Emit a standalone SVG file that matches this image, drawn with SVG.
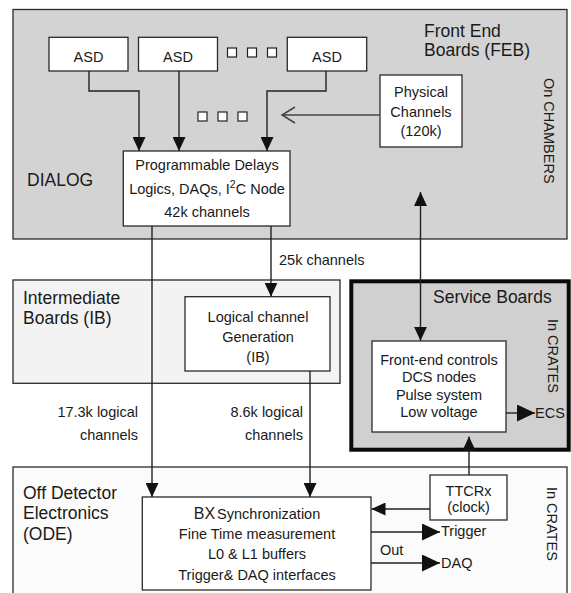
<svg xmlns="http://www.w3.org/2000/svg" width="571" height="593" viewBox="0 0 571 593">
<style>
text{font-family:"Liberation Sans",Arial,sans-serif;fill:#1a1a1a;font-size:14.5px}
.t{font-size:17.5px}
.m{text-anchor:middle}
.e{text-anchor:end}
.box{fill:#fff;stroke:#2a2a2a;stroke-width:1.3}
.dot{fill:#fff;stroke:#222;stroke-width:1.2}
.c{fill:none;stroke:#222;stroke-width:1.4}
.a{marker-end:url(#ah)}
.ab{marker-end:url(#ahb)}
</style>
<defs>
<marker id="ah" markerUnits="userSpaceOnUse" viewBox="0 0 14 13" markerWidth="14" markerHeight="13" refX="14" refY="6.5" orient="auto-start-reverse"><path d="M0,0L14,6.5L0,13z" fill="#111"/></marker>
<marker id="ahb" markerUnits="userSpaceOnUse" viewBox="0 0 18 17" markerWidth="18" markerHeight="17" refX="18" refY="8.5" orient="auto"><path d="M0,0L18,8.5L0,17z" fill="#111"/></marker>
</defs>

<g id="feb">
<rect x="13" y="9.5" width="554" height="229.5" fill="#d3d3d3" stroke="#2a2a2a" stroke-width="1.3"/>
<text class="t" x="424" y="36.5">Front End</text>
<text class="t" x="424" y="56">Boards (FEB)</text>
<text class="t" x="27" y="186">DIALOG</text>
<text transform="translate(543.5,78) rotate(90)">On CHAMBERS</text>
<rect class="dot" x="227.5" y="48" width="9" height="9"/>
<rect class="dot" x="247.5" y="48" width="9" height="9"/>
<rect class="dot" x="267.5" y="48" width="9" height="9"/>
<rect class="dot" x="198" y="112" width="9" height="9"/>
<rect class="dot" x="218" y="112" width="9" height="9"/>
<rect class="dot" x="238" y="112" width="9" height="9"/>
</g>
<g id="asd1"><rect class="box" x="49" y="37.3" width="79" height="33.7"/><text class="m" x="88.5" y="62">ASD</text></g>
<g id="asd2"><rect class="box" x="138.5" y="37.3" width="79" height="33.7"/><text class="m" x="178" y="62">ASD</text></g>
<g id="asd3"><rect class="box" x="287.3" y="37.3" width="79.4" height="33.7"/><text class="m" x="327" y="62">ASD</text></g>
<g id="physical"><rect class="box" x="380" y="75" width="82" height="72"/>
<text class="m" x="421" y="96.5">Physical</text><text class="m" x="421" y="116.5">Channels</text><text class="m" x="421" y="136">(120k)</text></g>
<g id="prog"><rect class="box" x="123.3" y="151" width="166.7" height="75"/>
<text class="m" x="207" y="170">Programmable Delays</text>
<text class="m" x="207" y="193.5">Logics, DAQs, I<tspan dy="-5.5" font-size="10.5">2</tspan><tspan dy="5.5">C Node</tspan></text>
<text class="m" x="207" y="217">42k channels</text></g>

<g id="ib">
<rect x="13" y="280" width="327" height="103.3" fill="#f3f3f3" stroke="#2a2a2a" stroke-width="1.3"/>
<text class="t" x="23" y="303.7">Intermediate</text>
<text class="t" x="23" y="323.6">Boards (IB)</text>
</g>
<g id="logical"><rect class="box" x="185" y="296.7" width="145" height="74.3"/>
<text class="m" x="258" y="321.5">Logical channel</text><text class="m" x="258" y="341.5">Generation</text><text class="m" x="258" y="361.5">(IB)</text></g>

<g id="service">
<rect x="351.3" y="281.3" width="217.4" height="168.4" fill="#d0d0d0" stroke="#0a0a0a" stroke-width="4"/>
<text class="t" x="433" y="303.3">Service Boards</text>
<text transform="translate(547.5,319) rotate(90)">In CRATES</text>
</g>
<g id="frontend"><rect class="box" x="372" y="341" width="134" height="91"/>
<text class="m" x="439" y="364.5">Front-end controls</text><text class="m" x="439" y="382">DCS nodes</text><text class="m" x="439" y="399.5">Pulse system</text><text class="m" x="439" y="417">Low voltage</text></g>
<g id="ecs"><text x="535" y="418">ECS</text></g>

<g id="ode">
<rect x="13" y="467" width="554" height="140" fill="#fbfbfb" stroke="#2a2a2a" stroke-width="1.3"/>
<text class="t" x="23" y="499.3">Off Detector</text>
<text class="t" x="23" y="519.3">Electronics</text>
<text class="t" x="23" y="539.5">(ODE)</text>
<text transform="translate(547,487) rotate(90)">In CRATES</text>
</g>
<g id="bx"><rect class="box" x="142.3" y="497" width="228.7" height="93"/>
<text class="m" x="257" y="519"><tspan font-size="16">BX</tspan><tspan dx="2">Synchronization</tspan></text>
<text class="m" x="257" y="539">Fine Time measurement</text>
<text class="m" x="257" y="559">L0 &amp; L1 buffers</text>
<text class="m" x="257" y="579.5">Trigger&amp; DAQ interfaces</text></g>
<g id="ttcrx"><rect class="box" x="430" y="475" width="77" height="45"/>
<text class="m" x="468.5" y="495.5">TTCRx</text><text class="m" x="468.5" y="511.5">(clock)</text></g>
<g id="outputs">
<text x="441" y="535.5">Trigger</text>
<text x="380" y="554.5">Out</text>
<text x="441" y="567.5">DAQ</text>
</g>

<g id="connectors">
<path class="c a" d="M89,71V91H139V151"/>
<path class="c a" d="M179,71V151"/>
<path class="c a" d="M326,71V91H267V151"/>
<path d="M380,115H282M295,107L282,115L295,123" fill="none" stroke="#444" stroke-width="1.5"/>
<path class="c a" d="M420.5,192V340.8" marker-start="url(#ah)"/>
<path class="c a" d="M152,226V497"/>
<path class="c a" d="M271,226V296.7"/>
<path class="c a" d="M310,371V497"/>
<path class="c ab" d="M506,413H535"/>
<path class="c a" d="M469,475V436.5"/>
<path class="c a" d="M430,509H371.5"/>
<path class="c ab" d="M371,532H440"/>
<path class="c ab" d="M371,563H440"/>
</g>
<g id="labels">
<text x="279" y="264.5">25k channels</text>
<text class="e" x="138" y="417">17.3k logical</text>
<text class="e" x="138" y="439.5">channels</text>
<text class="e" x="303" y="417">8.6k logical</text>
<text class="e" x="303" y="439.5">channels</text>
</g>
</svg>
